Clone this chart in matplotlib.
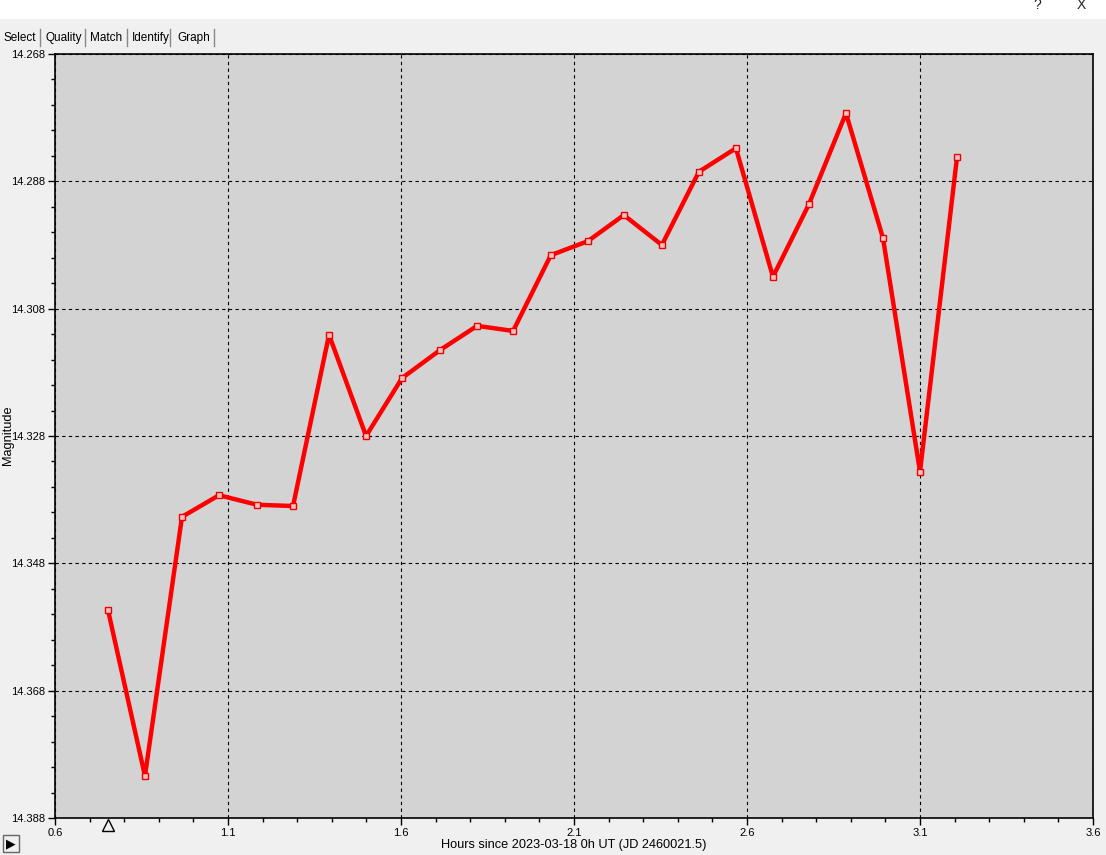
#!/usr/bin/env python3
"""Light curve graph tab: magnitude vs hours since 2023-03-18 0h UT."""

import matplotlib
matplotlib.use("Agg")
import matplotlib.pyplot as plt
from matplotlib.patches import Rectangle
from matplotlib.transforms import blended_transform_factory
from matplotlib.ticker import MultipleLocator

plt.rcParams["font.family"] = ["Liberation Sans", "DejaVu Sans"]

# data
hours = [0.753, 0.860, 0.967, 1.074, 1.184, 1.288, 1.392, 1.499, 1.603,
         1.713, 1.820, 1.924, 2.033, 2.140, 2.244, 2.354, 2.461, 2.568,
         2.675, 2.779, 2.886, 2.993, 3.100, 3.207]
mags = [14.3553, 14.3814, 14.3407, 14.3373, 14.3388, 14.3390, 14.3121,
        14.3280, 14.3189, 14.3145, 14.3107, 14.3115, 14.2996, 14.2974,
        14.2933, 14.2980, 14.2865, 14.2828, 14.3030, 14.2916, 14.2773,
        14.2969, 14.3336, 14.2842]
x_ticks = [0.6, 1.1, 1.6, 2.1, 2.6, 3.1, 3.6]
y_ticks = [14.268, 14.288, 14.308, 14.328, 14.348, 14.368, 14.388]
tabs = ["Select", "Quality", "Match", "Identify", "Graph"]

W, H = 1106, 855
fig = plt.figure(figsize=(W / 100, H / 100), dpi=100)
fig.patch.set_facecolor("#f0f0f0")

# window title strip
fig.patches.append(Rectangle((0, 1 - 19 / H), 1, 19 / H, transform=fig.transFigure,
                             facecolor="white", edgecolor="none", zorder=0))
fig.text(1037 / W, 1 - 5 / H, "?", fontsize=10, ha="center", va="center", color="#222")
fig.text(1081 / W, 1 - 5 / H, "X", fontsize=10, ha="center", va="center", color="#222")

# tab strip
tab_x = [4, 45, 90, 132, 177]
for name, tx in zip(tabs, tab_x):
    fig.text(tx / W, 1 - 38 / H, name, fontsize=8.5, ha="left", va="center",
             color="black")
for sx in [40, 85, 127, 170, 214]:
    fig.lines.append(plt.Line2D([sx / W, sx / W], [1 - 46 / H, 1 - 29 / H],
                                transform=fig.transFigure, color="#888", lw=1))

ax = fig.add_axes([55 / W, 37 / H, 1038 / W, 764 / H])
ax.set_facecolor("#d3d3d3")
ax.plot(hours, mags, color="#ff0000", lw=3.2, marker="s", markersize=5,
        mfc="#ffc0c0", mec="#ee0000", mew=1, zorder=3)

ax.set_xlim(0.6, 3.6)
ax.set_ylim(14.388, 14.268)
ax.set_xticks(x_ticks)
ax.set_xticklabels([f"{t:g}" for t in x_ticks])
ax.set_yticks(y_ticks)
ax.set_yticklabels([f"{t:.3f}" for t in y_ticks])
ax.xaxis.set_minor_locator(MultipleLocator(0.1))
ax.yaxis.set_minor_locator(MultipleLocator(0.004))
ax.tick_params(axis="both", which="major", length=5, width=1, labelsize=8,
               pad=2, direction="out", color="black")
ax.tick_params(axis="both", which="minor", length=3, width=1, direction="out")
ax.grid(True, which="major", color="black", linestyle=(0, (3, 3)), lw=0.8)
for s in ax.spines.values():
    s.set_linewidth(1.2)
    s.set_color("black")

ax.set_xlabel("Hours since 2023-03-18 0h UT (JD 2460021.5)", fontsize=9.2,
              labelpad=1)
fig.text(8 / W, 1 - 435 / H, "Magnitude", fontsize=9.2, rotation=90,
         ha="center", va="center")

# start marker under the axis
tr = blended_transform_factory(ax.transData, ax.transAxes)
ax.plot([hours[0]], [-0.0095], transform=tr, marker="^", markersize=8.5,
        mfc="none", mec="black", mew=1, clip_on=False)

# play button
fig.patches.append(Rectangle((3 / W, 3 / H), 16 / W, 17 / H, transform=fig.transFigure,
                             facecolor="#f0f0f0", edgecolor="#666", lw=1))
fig.text(11 / W, 11.5 / H, "\u25B6", fontsize=9, ha="center", va="center",
         color="black", family=["DejaVu Sans"])

fig.savefig("out.png", dpi=100, facecolor=fig.get_facecolor())
